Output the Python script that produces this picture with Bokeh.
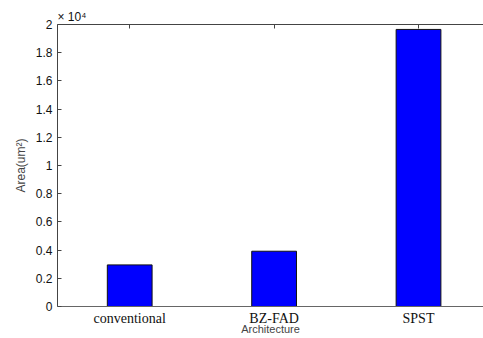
from bokeh.plotting import figure
from bokeh.models import Range1d, FixedTicker, LinearAxis
from bokeh.embed import file_html
from bokeh.resources import INLINE

categories = ["conventional", "BZ-FAD", "SPST"]
positions = [1, 2, 3]
areas = [2950, 3920, 19650]
y_ticks = [0, 2000, 4000, 6000, 8000, 10000, 12000, 14000, 16000, 18000, 20000]
y_tick_labels = ["0", "0.2", "0.4", "0.6", "0.8", "1", "1.2", "1.4", "1.6", "1.8", "2"]

p = figure(width=483, height=338, output_backend="svg", toolbar_location=None,
           x_range=Range1d(0.5, 3.45), y_range=Range1d(0, 20000),
           min_border_left=57, min_border_right=0, min_border_top=24, min_border_bottom=32,
           x_axis_location=None, y_axis_location=None,
           title="× 10⁴")
p.title.align = "left"
p.title.text_font = "Liberation Sans"
p.title.text_font_style = "normal"
p.title.text_font_size = "12px"
p.title.text_color = "#111111"
p.title.standoff = 2
p.title.offset = 0
p.outline_line_color = None
p.grid.visible = False
p.background_fill_color = "white"
p.border_fill_color = "white"

p.vbar(x=positions, top=areas, width=0.31, bottom=0,
       fill_color="#0000FF", line_color="#111111", line_width=1)

axis_color = "#444444"

left = LinearAxis(ticker=FixedTicker(ticks=y_ticks))
left.major_label_overrides = {t: l for t, l in zip(y_ticks, y_tick_labels)}
left.axis_label = "Area(um²)"
left.axis_label_text_font = "Liberation Sans"
left.axis_label_text_font_style = "normal"
left.axis_label_text_font_size = "12px"
left.axis_label_standoff = 5
left.major_label_text_font = "Liberation Sans"
left.major_label_text_font_size = "12px"
left.major_label_text_color = "#111111"
left.major_label_standoff = 5
left.major_tick_in = 4
left.major_tick_out = 0
left.minor_tick_line_color = None
left.axis_line_color = axis_color
left.major_tick_line_color = axis_color
p.add_layout(left, "left")

bottom = LinearAxis(ticker=FixedTicker(ticks=positions))
bottom.major_label_overrides = {pos: c for pos, c in zip(positions, categories)}
bottom.major_label_text_font = "Liberation Serif"
bottom.major_label_text_font_size = "14px"
bottom.major_label_text_color = "#111111"
bottom.major_label_standoff = 4
bottom.axis_label = "Architecture"
bottom.axis_label_text_font = "Liberation Sans"
bottom.axis_label_text_font_style = "normal"
bottom.axis_label_text_font_size = "11px"
bottom.axis_label_standoff = -6
bottom.major_tick_in = 0
bottom.major_tick_out = 0
bottom.minor_tick_line_color = None
bottom.axis_line_color = "#666666"
p.add_layout(bottom, "below")

top = LinearAxis(ticker=FixedTicker(ticks=positions))
top.major_label_text_font_size = "0px"
top.major_label_text_color = None
top.major_label_standoff = 0
top.major_tick_in = 4
top.major_tick_out = 0
top.minor_tick_line_color = None
top.axis_line_color = axis_color
top.major_tick_line_color = axis_color
p.add_layout(top, "above")

open("out.html", "w").write(file_html(p, INLINE))
